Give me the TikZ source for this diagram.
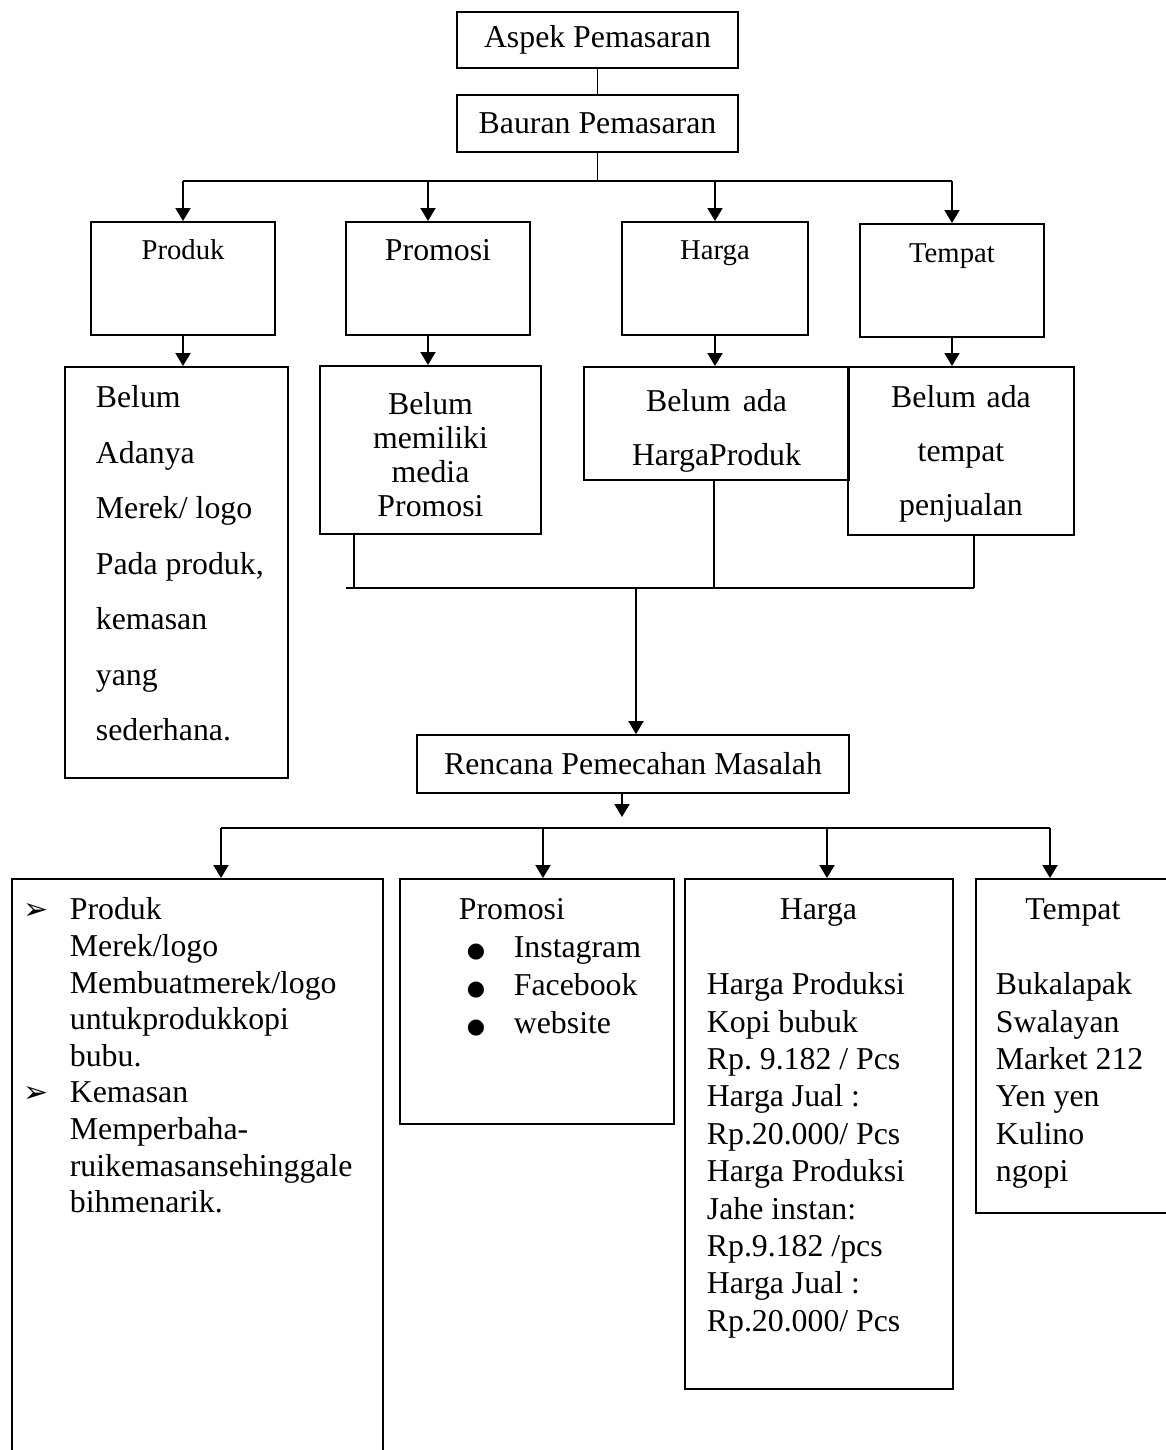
\documentclass[tikz,border=0pt]{standalone}
\usepackage{fontspec}
\setmainfont{Liberation Serif}
\newfontfamily\dejavu{DejaVu Sans}
\usepackage{tikz}
\usetikzlibrary{arrows.meta, positioning, calc}
\frenchspacing

\newcommand{\panah}{\makebox[23pt][l]{\dejavu\fontsize{15}{15}\selectfont ➢}}
\newcommand{\titik}{\makebox[23.5pt][l]{\dejavu\fontsize{10.5}{10.5}\selectfont ●}}

\begin{document}
\begin{tikzpicture}[
        x=0.5pt, y=-0.5pt,
        box/.style={rectangle, draw, line width=0.9pt, inner sep=0pt, font=\fontsize{15.9}{18}\selectfont},
        head/.style={box, anchor=north, font=\fontsize{14.35}{17}\selectfont},
        ket/.style={box, anchor=north, align=center},
        plan/.style={box, anchor=north west, align=left, font=\fontsize{15.9}{18.7}\selectfont},
        arr/.style={-{Triangle[width=7.5pt, length=6.5pt]}, line width=1pt},
        link/.style={line width=0.8pt}
    ]
    \useasboundingbox (0,0) rectangle (1166,1450);
    \clip (0,0) rectangle (1166,1450);

    \node[box, minimum width=140.5pt, minimum height=28pt] (aspek) at (597.5,40) {Aspek Pemasaran};
    \node[box, minimum width=140.5pt, minimum height=28.5pt, below=12.5pt of aspek] (bauran) {Bauran Pemasaran};

    % Bauran pemasaran
    \node[head, minimum width=92pt, text height=19pt, text depth=37.5pt] (produk) at (183,221) {Produk};
    \node[head, minimum width=92pt, text height=19.5pt, text depth=37pt, font=\fontsize{15.9}{18}\selectfont] (promosi) at (438,221) {Promosi};
    \node[head, minimum width=93pt, text height=19pt, text depth=37.5pt] (harga) at (715,221) {Harga};
    \node[head, minimum width=92pt, text height=19.5pt, text depth=37pt] (tempat) at (952,223) {Tempat};

    % Masalah
    \node[box, anchor=north west, align=left, text width=111.5pt, text height=20.5pt, text depth=185pt, font=\fontsize{15.9}{27.75}\selectfont] (mslproduk) at (64,366) {\leftskip=15.5pt\spaceskip=0pt
        Belum\\ Adanya\\ Merek/ logo\\ Pada produk,\\ kemasan\\ yang\\ sederhana.\par};
    \node[ket, text width=110.5pt, text height=24.5pt, text depth=59.5pt, font=\fontsize{15.9}{17}\selectfont] (mslpromosi) at (430.5,365) {\spaceskip=0pt
        Belum\\ memiliki\\ media\\ Promosi\par};
    \node[ket, text width=132.5pt, text height=22.5pt, text depth=34pt, font=\fontsize{15.9}{27}\selectfont] (mslharga) at (716.5,366) {\spaceskip=0pt
        Belum ada\\ HargaProduk\par};
    \node[ket, text width=113pt, text height=20.5pt, text depth=63.5pt, font=\fontsize{15.9}{27}\selectfont] (msltempat) at (961,366) {\spaceskip=0pt
        Belum ada\\ tempat\\ penjualan\par};

    \node[box, minimum width=216pt, minimum height=29pt] (rencana) at (633,764) {Rencana Pemecahan Masalah};

    % Rencana
    \node[plan, text width=185.5pt, text height=20.5pt, text depth=275.5pt, font=\fontsize{15.9}{18.3}\selectfont] (rcproduk) at (11,878) {\leftskip=6pt\spaceskip=0pt
        \panah Produk\\
        \hspace*{23pt}Merek/logo\\
        \hspace*{23pt}Membuatmerek/logo\\
        \hspace*{23pt}untukprodukkopi\\
        \hspace*{23pt}bubu.\\
        \panah Kemasan\\
        \hspace*{23pt}Memperbaha-\\
        \hspace*{23pt}ruikemasansehinggale\\
        \hspace*{23pt}bihmenarik.\par};
    \node[plan, text width=137pt, text height=20.5pt, text depth=102pt, font=\fontsize{15.9}{19}\selectfont] (rcpromosi) at (399,878) {\leftskip=29.5pt\spaceskip=0pt
        Promosi\\
        \hspace*{4pt}\titik Instagram\\
        \hspace*{4pt}\titik Facebook\\
        \hspace*{4pt}\titik website\par};
    \node[plan, text width=134pt, text height=20.5pt, text depth=234.5pt] (rcharga) at (684,878) {\leftskip=11pt\spaceskip=0pt
        \hspace*{36.5pt}Harga\\[18.7pt]
        Harga Produksi\\ Kopi bubuk\\ Rp. 9.182 / Pcs\\ Harga Jual :\\ Rp.20.000/ Pcs\\
        Harga Produksi\\ Jahe instan:\\ Rp.9.182 /pcs\\ Harga Jual :\\ Rp.20.000/ Pcs\par};
    \node[plan, text width=112.5pt, text height=20.5pt, text depth=146.5pt] (rctempat) at (975,878) {\leftskip=10pt\spaceskip=0pt
        \hspace*{14.75pt}Tempat\\[18.7pt]
        Bukalapak\\ Swalayan\\ Market 212\\ Yen yen\\ Kulino\\ ngopi\par};

    % Garis atas
    \coordinate (bus1L) at (183,181);
    \coordinate (bus1R) at (952,181);
    \draw[link] (aspek) -- (bauran);
    \draw[link] (bauran.south) -- (bauran.south |- bus1L);
    \draw[link] (bus1L) -- (bus1R);
    \foreach \n/\x in {produk/183, promosi/428, harga/715, tempat/952} {
        \coordinate (k\n) at (\x,181);
        \draw[arr] (k\n) -- (k\n |- \n.north);
        \draw[arr] (k\n |- \n.south) -- (k\n |- msl\n.north);
    }

    % Garis tengah
    \coordinate (bus2L) at (346,588);
    \coordinate (bus2R) at (974,588);
    \coordinate (j1) at (354,588);
    \coordinate (j2) at (714,588);
    \coordinate (j3) at (636,588);
    \draw[link] (bus2L) -- (bus2R);
    \draw[link] (mslpromosi.south -| j1) -- (j1);
    \draw[link] (mslharga.south -| j2) -- (j2);
    \draw[link] (msltempat.south -| bus2R) -- (bus2R);
    \draw[arr] (j3) -- (j3 |- rencana.north);

    % Garis bawah
    \coordinate (r1) at (622,817);
    \coordinate (bus3L) at (221,828);
    \coordinate (bus3R) at (1050,828);
    \draw[arr] (rencana.south -| r1) -- (r1);
    \draw[link] (bus3L) -- (bus3R);
    \foreach \n/\x in {produk/221, promosi/543, harga/827, tempat/1050} {
        \coordinate (s\n) at (\x,828);
        \draw[arr] (s\n) -- (s\n |- rc\n.north);
    }
\end{tikzpicture}
\end{document}
